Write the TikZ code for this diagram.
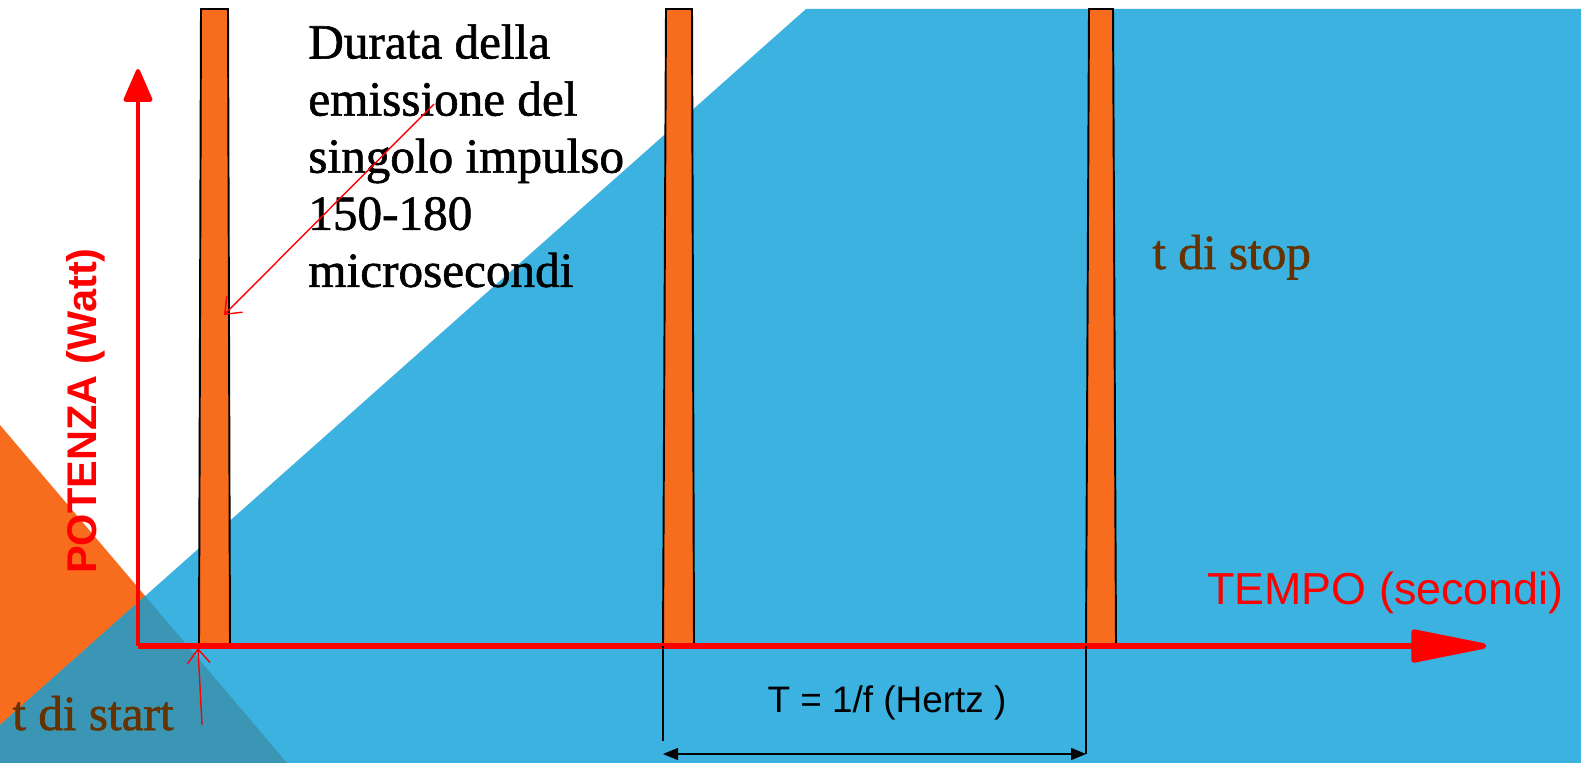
\documentclass[tikz,border=0pt]{standalone}
\usepackage{fontspec}
\setmainfont{Liberation Serif}
\setsansfont{Liberation Sans}
\newfontfamily\heavyserif{Liberation Serif}[FakeBold=1.2]
\usetikzlibrary{arrows.meta}

\definecolor{slideblue}{RGB}{59,178,224}
\definecolor{slideorange}{RGB}{248,108,30}
\definecolor{slidedark}{RGB}{58,150,180}
\definecolor{labelbrown}{RGB}{102,51,0}

\begin{document}
\begin{tikzpicture}[x=0.02cm, y=-0.02cm,
        pulse/.style = {fill=slideorange, draw=black, line width=1.1pt},
        axis/.style = {red, line width=3.3pt},
        dimline/.style = {black, line width=0.8pt},
        notearrow/.style = {red, line width=0.8pt, -{Straight Barb[length=0.28cm,width=0.45cm]}},
        brownlabel/.style = {labelbrown, font=\heavyserif\fontsize{28}{33}\selectfont, inner sep=0pt, anchor=base west}
    ]
    \useasboundingbox (0,0) rectangle (1581,763);
    \fill[white] (0,0) rectangle (1581,763);

    % background
    \fill[slideorange] (0,425) -- (0,763) -- (287,763) -- cycle;
    \fill[slideblue] (806,9) -- (1581,9) -- (1581,763) -- (0,763) -- (0,725) -- cycle;
    \fill[slidedark] (0,725) -- (145.2,596) -- (287,763) -- (0,763) -- cycle;

    % pulses
    \draw[pulse] (201,9) -- (228,9) -- (230,645) -- (199,645) -- cycle;
    \draw[pulse] (666,9) -- (692,9) -- (694,645) -- (663,645) -- cycle;
    \draw[pulse] (1089,9) -- (1113,9) -- (1116,645) -- (1086,645) -- cycle;

    % axes
    \coordinate (O) at (138,646);
    \coordinate (ytip) at (138,69);
    \coordinate (xtip) at (1486,646);
    \draw[axis, line width=2.3pt, -{Triangle[length=0.72cm,width=0.6cm,round]}] (O) -- (ytip);
    \draw[axis, -{Triangle[length=1.75cm,width=0.66cm,round]}] (O) -- (xtip);

    % period
    \coordinate (p2foot) at (663,646);
    \coordinate (p3foot) at (1086,646);
    \coordinate (dimL) at (663,741);
    \coordinate (dimA) at (663,754);
    \coordinate (dimR) at (1086,754);
    \draw[dimline] (p2foot) -- (dimL);
    \draw[dimline] (p3foot) -- (dimR);
    \draw[dimline, {Triangle[length=0.3cm,width=0.24cm]}-{Triangle[length=0.3cm,width=0.24cm]}] (dimA) -- (dimR);
    \node[font=\sffamily\fontsize{21}{25}\selectfont] (period) at (887,703) {T = 1/f (Hertz )};

    % labels
    \node[red, font=\sffamily\fontsize{25.5}{30}\selectfont, anchor=base west, inner sep=0pt] (xlabel) at (1207,604) {TEMPO (secondi)};
    \node[red, font=\sffamily\bfseries\fontsize{23.6}{28}\selectfont, rotate=90, inner sep=0pt] (ylabel) at (86,411) {POTENZA (Watt)};
    \node[brownlabel] (tstop) at (1152,269) {t di stop};
    \node[brownlabel] (tstart) at (12,730) {t di start};
    \node[align=left, font=\heavyserif\fontsize{28}{32.5}\selectfont, anchor=north west, inner sep=0pt] (note) at (308,24) {Durata della\\emissione del\\singolo impulso\\150-180\\microsecondi};

    % pointers
    \coordinate (noteTail) at (434,104);
    \coordinate (noteHead) at (224,315);
    \coordinate (startTail) at (202,725);
    \coordinate (startHead) at (198,648);
    \draw[notearrow] (noteTail) -- (noteHead);
    \draw[notearrow] (startTail) -- (startHead);
\end{tikzpicture}
\end{document}
